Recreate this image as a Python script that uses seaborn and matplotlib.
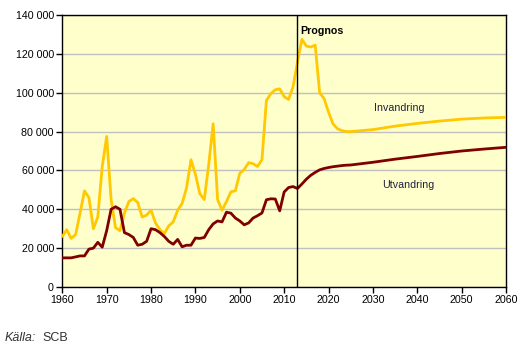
import matplotlib
matplotlib.use("Agg")
import matplotlib.pyplot as plt
import matplotlib.ticker as mticker
import pandas as pd
import seaborn as sns

# Years: yearly through 2024, then every five years of the forecast
years = list(range(1960, 2025)) + [2025, 2030, 2035, 2040, 2045, 2050, 2055, 2060]

invandring = [
    26000, 29500, 25000, 27000, 38000, 49500, 46000, 30000, 36000, 62000,   # 1960-69
    77500, 45000, 30500, 29000, 38000, 44000, 45500, 43500, 36000, 37000,   # 1970-79
    39500, 33000, 29500, 27500, 31500, 33500, 39500, 43000, 51000, 65500,   # 1980-89
    58000, 48000, 45000, 63000, 84000, 45000, 39500, 44000, 49000, 49500,   # 1990-99
    58500, 60500, 64000, 63500, 62000, 65500, 96000, 99500, 101500, 102000, # 2000-09
    98000, 96500, 103000, 115800, 127500, 124000, 123500, 124500, 100000, 97000,  # 2010-19
    90000, 84000, 81500, 80500, 80000,                                      # 2020-24
    80000, 81000, 82800, 84200, 85400, 86400, 87000, 87300,                 # 2025-60
]

utvandring = [
    15000, 15000, 15000, 15500, 16000, 16000, 19500, 20000, 23000, 20500,   # 1960-69
    29000, 40000, 41300, 40000, 28000, 27000, 25500, 21500, 22000, 23500,   # 1970-79
    30000, 29500, 28000, 26000, 23500, 22000, 24500, 20700, 21500, 21500,   # 1980-89
    25200, 25000, 25500, 29500, 32500, 34000, 33500, 38500, 38000, 35500,   # 1990-99
    34000, 32000, 33000, 35500, 36700, 38100, 44900, 45400, 45300, 39200,   # 2000-09
    48900, 51200, 51700, 50700, 53000, 55500, 57500, 59000, 60300, 61000,   # 2010-19
    61500, 61900, 62200, 62500, 62700,                                      # 2020-24
    62800, 64200, 65800, 67200, 68700, 70000, 71000, 71900,                 # 2025-60
]

prognos_year = 2013
x_ticks = list(range(1960, 2061, 10))
y_ticks = list(range(0, 140001, 20000))

df = pd.concat([
    pd.DataFrame({"År": years, "Antal": invandring, "Serie": "Invandring"}),
    pd.DataFrame({"År": years, "Antal": utvandring, "Serie": "Utvandring"}),
])

sns.set_theme(style="white")
plt.rcParams["font.family"] = ["Liberation Sans", "DejaVu Sans"]

fig = plt.figure(figsize=(5.24, 3.45), dpi=100)
ax = fig.add_axes([62.3 / 524, 1 - 287 / 345, (506 - 62.3) / 524, (287 - 15) / 345])
ax.set_facecolor("#FFFFCC")

sns.lineplot(
    data=df, x="År", y="Antal", hue="Serie",
    palette={"Invandring": "#FFC800", "Utvandring": "#800000"},
    linewidth=2.0, legend=False, ax=ax, zorder=3,
)

ax.set_xlim(1960, 2060)
ax.set_ylim(0, 140000)
ax.set_xticks(x_ticks)
ax.set_yticks(y_ticks)
ax.yaxis.set_major_formatter(mticker.FuncFormatter(lambda v, p: f"{int(v):,}".replace(",", " ")))
ax.grid(axis="y", color="#C0C0C0", linewidth=1.0)
ax.grid(axis="x", visible=False)
ax.set_axisbelow(True)
ax.set_xlabel("")
ax.set_ylabel("")

for s in ax.spines.values():
    s.set_visible(True)
    s.set_color("black")
    s.set_linewidth(1.0)

ax.tick_params(axis="both", which="major", direction="out", length=4, width=1,
               color="black", labelsize=7.7, labelcolor="black", pad=2)
ax.tick_params(axis="x", bottom=True)
ax.tick_params(axis="y", left=True)

ax.axvline(prognos_year, color="black", linewidth=1.0, zorder=4)
ax.text(prognos_year + 0.7, 132000, "Prognos", fontsize=7.7, fontweight="bold",
        color="black", va="center", ha="left")
ax.text(2036, 92000, "Invandring", fontsize=7.7, color="#202040", va="center", ha="center")
ax.text(2038, 52500, "Utvandring", fontsize=7.7, color="#202040", va="center", ha="center")

fig.text(5 / 524, 1 - 338 / 345, "Källa:", fontsize=9, style="italic", color="#333333",
         va="center", ha="left")
fig.text(42 / 524, 1 - 338 / 345, "SCB", fontsize=9, color="#333333", va="center", ha="left")

fig.savefig("out.png", dpi=100, facecolor="white")
